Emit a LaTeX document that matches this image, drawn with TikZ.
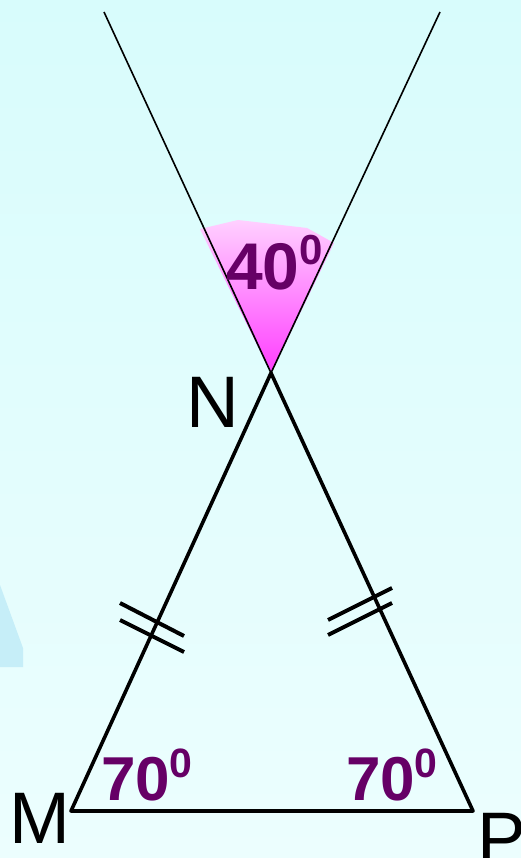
\documentclass[tikz,border=0pt]{standalone}
\usepackage{fontspec}
\setmainfont{Liberation Sans}
\definecolor{bgtop}{HTML}{D8FCFC}
\definecolor{bgbot}{HTML}{ECFEFE}
\definecolor{degc}{HTML}{660066}
\definecolor{pinktop}{HTML}{FFD0FF}
\definecolor{pinkbot}{HTML}{FF3DFF}
\definecolor{bluepatch}{HTML}{C6EEF8}
\begin{document}
\begin{tikzpicture}[x=1pt,y=-1pt,
  lbl/.style={inner sep=0pt, outer sep=0pt, anchor=base west},
  vname/.style={lbl, font=\fontsize{73}{73}\selectfont},
  deg/.style={lbl, text=degc, font=\bfseries\fontsize{62}{62}\selectfont},
  thinline/.style={line width=1.6pt, black},
  thickline/.style={line width=3.6pt, black, line cap=round, line join=round},
  tick/.style={line width=4pt, black}]
\useasboundingbox (0,0) rectangle (521,858);
\clip (0,0) rectangle (521,858);
\shade[top color=bgtop, bottom color=bgbot] (0,0) rectangle (521,858);
\fill[bluepatch] (0,585) -- (23,648) -- (23,667) -- (0,667) -- cycle;

\coordinate (N) at (271,373);
\coordinate (M) at (71,811);
\coordinate (P) at (473,811);
\coordinate (TL) at (104,12);
\coordinate (TR) at (440,12);

% angle sector at N
\shade[top color=pinktop, bottom color=pinkbot]
  (200,229) -- (238,220) -- (307,228) -- (334,243) -- (N) -- cycle;

% lines
\draw[thinline] (N) -- (TL);
\draw[thinline] (N) -- (TR);
\draw[thickline] (M) -- (N) -- (P) -- cycle;

% tick marks
\draw[tick] (120,603) -- (184,636);
\draw[tick] (120,620) -- (184,652);
\draw[tick] (328,620) -- (392,588);
\draw[tick] (328,635) -- (392,603);

% labels
\node[vname] (lN) at (186.5,427) {N};
\node[vname] (lM) at (9.5,843) {M};
\node[vname] (lP) at (477,863) {P};

\node[deg, font=\bfseries\fontsize{66}{66}\selectfont] (a40) at (226,290)
  {40\raisebox{25pt}{\fontsize{42}{42}\selectfont 0}};
\node[deg] (a70l) at (101,800) {70\raisebox{23pt}{\fontsize{41}{41}\selectfont 0}};
\node[deg] (a70r) at (346,800) {70\raisebox{23pt}{\fontsize{41}{41}\selectfont 0}};
\end{tikzpicture}
\end{document}
